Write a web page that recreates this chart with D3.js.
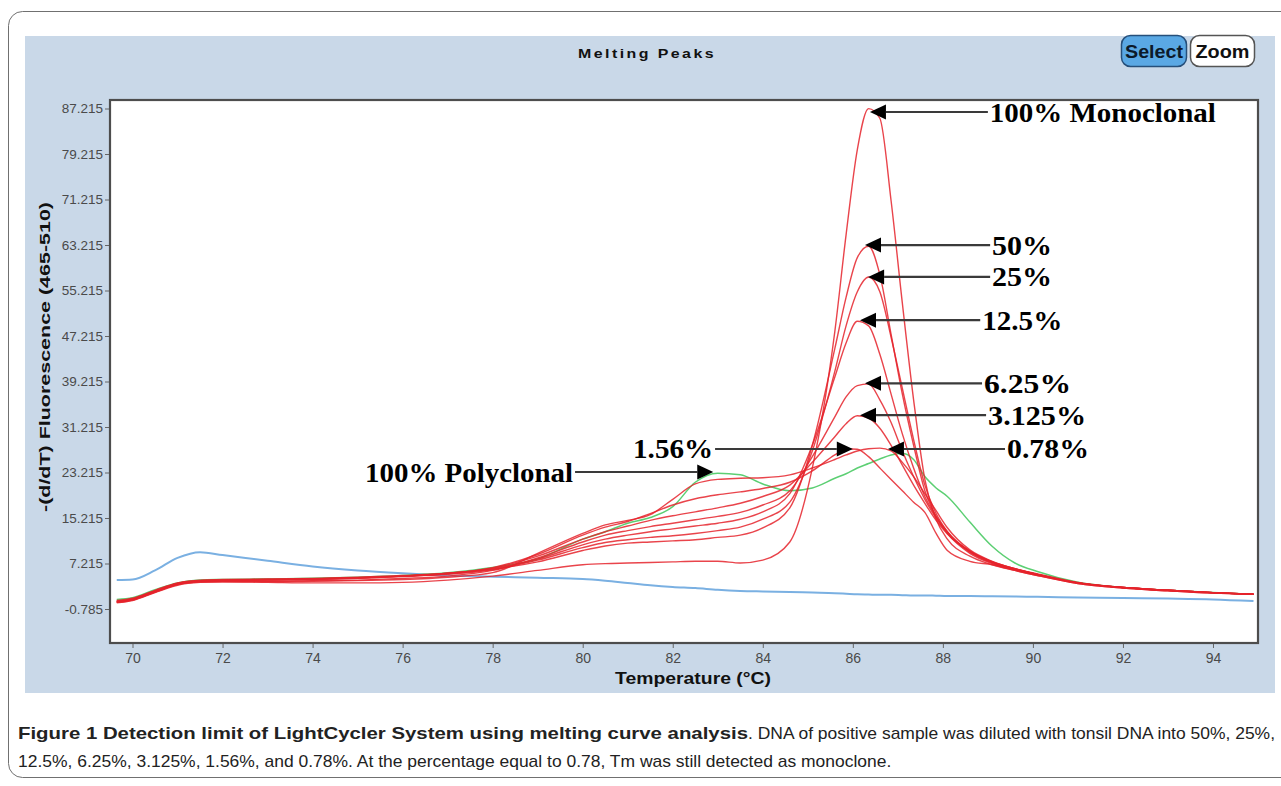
<!DOCTYPE html>
<html><head><meta charset="utf-8">
<script src="https://cdn.jsdelivr.net/npm/d3@7"></script>
<style>body{margin:0;background:#fff}svg{display:block}</style>
</head><body>
<svg id="chart" width="1281" height="786"></svg>
<script>
// ---------- data ----------
const temps = [69.65,70,70.5,71,71.5,72,73,74,75,76,77,78,
  79,80,80.5,81,81.5,82,82.5,83,83.5,84,
  84.6,85.1,85.6,85.85,86.1,86.35,86.6,86.85,87.1,87.35,87.6,87.85,88.1,
  88.6,89.1,89.6,90.1,91,92,93,94,94.9];

const blankControl = [4.3,4.4,6.0,8.2,9.2,8.7,7.7,6.7,6.0,5.5,5.1,4.9,
  4.7,4.5,4.2,3.8,3.4,3.1,2.9,2.6,2.4,2.3,
  2.2,2.1,2.0,1.9,1.8,1.75,1.7,1.7,1.65,1.6,1.6,1.55,1.5,
  1.5,1.45,1.4,1.35,1.25,1.15,1.05,0.9,0.6];

const polyclonal100 = [0.9,1.2,2.6,3.8,4.3,4.4,4.5,4.6,4.8,5.1,5.6,6.5,
  8.0,11.5,12.8,14.3,15.3,17.2,21.5,23.1,22.8,21.2,
  20.0,20.5,22.2,23.0,24.0,24.8,25.6,26.3,26.6,25.5,22.5,20.5,19.0,
  14.5,10.2,7.3,5.8,3.9,3.0,2.5,2.1,1.8];

const monoclonal100 = [0.4,0.8,2.2,3.5,4.0,4.0,3.9,3.8,3.8,3.9,4.3,5.0,
  6.0,7.0,7.2,7.3,7.4,7.5,7.6,7.6,7.3,7.8,
  11,24,48,65,80,87.2,85.5,71,53,36,22,15,11.5,
  8.5,7.0,6.0,5.1,3.7,2.9,2.4,2.0,1.8];

const dilution50 = [0.6,1.0,2.4,3.7,4.2,4.3,4.4,4.5,4.7,5.0,5.4,6.2,
  7.5,9.5,10.3,10.8,11.0,11.2,11.4,11.8,12.2,13.5,
  17,28,45,54,61,63,58,47.5,37,28,20,15.5,12.5,
  9.0,7.2,6.1,5.2,3.8,3.0,2.5,2.1,1.8];

const dilution25 = [0.5,0.9,2.3,3.6,4.1,4.2,4.3,4.4,4.6,4.9,5.3,6.1,
  7.8,10.0,10.9,11.4,11.8,12.1,12.5,13.0,13.6,15.0,
  18,27,41,49,55,57.6,55,47,38,29,21,16,12.8,
  9.2,7.3,6.2,5.3,3.8,3.0,2.5,2.1,1.8];

const dilution12_5 = [0.7,1.1,2.5,3.8,4.3,4.4,4.5,4.6,4.8,5.1,5.5,6.3,
  8.0,10.5,11.5,12.2,12.8,13.3,13.8,14.3,15.0,16.3,
  19.5,28,40,46,49.8,49,44,37,30,24,19,15.5,12.8,
  9.3,7.4,6.2,5.3,3.8,3.0,2.5,2.1,1.8];

const dilution6_25 = [0.4,0.8,2.2,3.5,4.0,4.1,4.1,4.2,4.3,4.6,5.0,6.0,
  8.2,11.0,12.2,13.0,13.7,14.3,14.9,15.5,16.2,17.5,
  20,26,33,36.5,38.5,38.8,36,32,27,22.5,18.5,15.2,12.6,
  9.4,7.5,6.3,5.3,3.8,3.0,2.5,2.1,1.8];

const dilution3_125 = [0.6,1.0,2.4,3.7,4.2,4.3,4.4,4.5,4.7,5.0,5.5,6.4,
  8.5,11.5,12.8,13.8,14.8,15.6,16.3,17.0,17.8,19.0,
  21,25,29.5,31.8,33.2,32.8,31,28,24.5,21,17.8,14.8,12.4,
  9.4,7.5,6.3,5.3,3.8,3.0,2.5,2.1,1.8];

const dilution1_56 = [0.5,0.9,2.3,3.6,4.1,4.2,4.3,4.4,4.6,5.0,5.5,6.5,
  8.8,12.2,13.6,14.6,16.0,17.5,18.6,19.3,19.8,20.4,
  21.5,23.5,26.3,27.4,27.3,26,24,22,20,18,16.2,12.5,9.5,
  7.6,7.0,6.0,5.1,3.7,2.9,2.4,2.0,1.8];

const dilution0_78 = [0.3,0.7,2.1,3.4,3.9,4.0,4.0,4.1,4.2,4.4,4.8,5.6,
  9.0,12.5,14.0,14.8,15.8,18.5,21.2,22.0,22.2,22.3,
  22.8,24,25.5,26.3,27,27.4,27.5,27,25,22.5,19.5,16.5,13.5,
  9.6,7.6,6.3,5.4,3.9,3.0,2.5,2.1,1.8];

const redSeries = [monoclonal100, dilution50, dilution25, dilution12_5, dilution6_25, dilution3_125, dilution1_56, dilution0_78];

const xTicks = [70,72,74,76,78,80,82,84,86,88,90,92,94];
const yTicks = [-0.785,7.215,15.215,23.215,31.215,39.215,47.215,55.215,63.215,71.215,79.215,87.215];
const yTickLabels = ["-0.785","7.215","15.215","23.215","31.215","39.215","47.215","55.215","63.215","71.215","79.215","87.215"];

const annotationLabels = ["100% Monoclonal","50%","25%","12.5%","6.25%","3.125%","0.78%","1.56%","100% Polyclonal"];
const annotationTipTemp = [86.38,86.27,86.34,86.16,86.27,86.16,86.78,86.0,82.9];
const annotationTipValue = [86.6,63.2,57.6,50.0,38.9,33.3,27.35,27.35,23.3];
const annotationTailTemp = [89.0,89.05,89.05,88.83,88.87,88.96,89.38,82.94,79.83];
const annotationPointsLeft = [true,true,true,true,true,true,true,false,false];

const titleText = "Melting Peaks";
const xTitle = "Temperature (°C)";
const yTitle = "-(d/dT) Fluorescence (465-510)";
const captionBold = "Figure 1 Detection limit of LightCycler System using melting curve analysis";
const captionRest1 = ". DNA of positive sample was diluted with tonsil DNA into 50%, 25%,";
const captionLine2 = "12.5%, 6.25%, 3.125%, 1.56%, and 0.78%. At the percentage equal to 0.78, Tm was still detected as monoclone.";

// ---------- layout ----------
const svg = d3.select("#chart");
const plot = {left:110, top:100, right:1258, bottom:643};
const labelWidths = [226,60,60,80,87,98,82,80,208];

// outer frame
svg.append("rect").attr("x",8.5).attr("y",11.5).attr("width",1320).attr("height",766)
  .attr("rx",14).attr("fill","none").attr("stroke","#707070").attr("stroke-width",1);

// panel
svg.append("rect").attr("x",25).attr("y",36).attr("width",1250).attr("height",657).attr("fill","#c9d8e8");

svg.append("text").attr("x",647).attr("y",58).attr("text-anchor","middle")
  .attr("font-family","Liberation Sans, Arial, sans-serif").attr("font-weight","bold")
  .attr("font-size",13).attr("letter-spacing",2).attr("fill","#111")
  .attr("textLength",138).attr("lengthAdjust","spacingAndGlyphs").text(titleText);

// buttons
const btn = svg.append("g");
btn.append("rect").attr("x",1121.5).attr("y",35.5).attr("width",65).attr("height",31).attr("rx",9)
  .attr("fill","#5aa8e4").attr("stroke","#264f7a").attr("stroke-width",1.5);
btn.append("text").attr("x",1154).attr("y",58).attr("text-anchor","middle")
  .attr("font-family","Liberation Sans Narrow, Arial Narrow, Liberation Sans, sans-serif").attr("font-weight","bold")
  .attr("font-size",19).attr("fill","#0c1a2a").attr("textLength",58).attr("lengthAdjust","spacingAndGlyphs").text("Select");
btn.append("rect").attr("x",1190.5).attr("y",35.5).attr("width",64).attr("height",31).attr("rx",9)
  .attr("fill","#ffffff").attr("stroke","#555").attr("stroke-width",1.5);
btn.append("text").attr("x",1222.5).attr("y",58).attr("text-anchor","middle")
  .attr("font-family","Liberation Sans Narrow, Arial Narrow, Liberation Sans, sans-serif").attr("font-weight","bold")
  .attr("font-size",19).attr("fill","#111").attr("textLength",54).attr("lengthAdjust","spacingAndGlyphs").text("Zoom");

// plot background
svg.append("rect").attr("x",plot.left).attr("y",plot.top)
  .attr("width",plot.right-plot.left).attr("height",plot.bottom-plot.top).attr("fill","#fff");

// scales
const x = d3.scaleLinear().domain([69.5,95.0]).range([plot.left,plot.right]);
const y = d3.scaleLinear().domain([-6.763,88.71]).range([plot.bottom,plot.top]);

// axes
const xAxis = svg.append("g").attr("transform",`translate(0,${plot.bottom})`)
  .call(d3.axisBottom(x).tickValues(xTicks).tickSize(5).tickPadding(5).tickFormat(d3.format("d")));
const yAxis = svg.append("g").attr("transform",`translate(${plot.left},0)`)
  .call(d3.axisLeft(y).tickValues(yTicks).tickSize(5).tickPadding(2).tickFormat((d,i)=>yTickLabels[i]));
[xAxis,yAxis].forEach(a=>{
  a.select(".domain").remove();
  a.selectAll(".tick line").attr("stroke","#666");
  a.selectAll(".tick text").attr("font-family","Liberation Sans, Arial, sans-serif")
    .attr("font-size",13.5).attr("fill","#4a4a4a");
});
xAxis.selectAll(".tick text").attr("font-size",14);

svg.append("text").attr("x",693).attr("y",684).attr("text-anchor","middle")
  .attr("font-family","Liberation Sans, Arial, sans-serif").attr("font-weight","bold")
  .attr("font-size",16).attr("fill","#111").attr("textLength",156).attr("lengthAdjust","spacingAndGlyphs").text(xTitle);
svg.append("text").attr("transform","translate(50,357) rotate(-90)").attr("text-anchor","middle")
  .attr("font-family","Liberation Sans, Arial, sans-serif").attr("font-weight","bold")
  .attr("font-size",15).attr("fill","#111").attr("textLength",310).attr("lengthAdjust","spacingAndGlyphs")
  .text(yTitle);

// curves
const clipId = "plotclip";
svg.append("clipPath").attr("id",clipId).append("rect")
  .attr("x",plot.left).attr("y",plot.top).attr("width",plot.right-plot.left).attr("height",plot.bottom-plot.top);
const line = d3.line().x((d,i)=>x(temps[i])).y(d=>y(d)).curve(d3.curveMonotoneX);
const curves = svg.append("g").attr("clip-path",`url(#${clipId})`).attr("fill","none");
curves.append("path").attr("d",line(blankControl)).attr("stroke","#7ab0e2").attr("stroke-width",2);
curves.append("path").attr("d",line(polyclonal100)).attr("stroke","#5ccf73").attr("stroke-width",1.5);
redSeries.forEach(s=>{
  curves.append("path").attr("d",line(s)).attr("stroke","#e5232b").attr("stroke-width",1.4).attr("stroke-opacity",0.85);
});

// plot frame
svg.append("rect").attr("x",plot.left).attr("y",plot.top)
  .attr("width",plot.right-plot.left).attr("height",plot.bottom-plot.top)
  .attr("fill","none").attr("stroke","#4d4d4d").attr("stroke-width",2.2);

// annotations
const ann = svg.append("g");
annotationLabels.forEach((lab,i)=>{
  const tx = x(annotationTipTemp[i]), ty = y(annotationTipValue[i]);
  const tail = x(annotationTailTemp[i]);
  const left = annotationPointsLeft[i];
  const hl = 16, hw = 7.5;
  const base = left ? tx + hl : tx - hl;
  ann.append("line").attr("x1",tail).attr("x2",base).attr("y1",ty).attr("y2",ty)
    .attr("stroke","#3a3a3a").attr("stroke-width",2.2);
  ann.append("path").attr("d",`M${tx},${ty}L${base},${ty-hw}L${base},${ty+hw}Z`).attr("fill","#000");
  ann.append("text").attr("x", left ? tail+2 : tail-2).attr("y",ty+9.5)
    .attr("text-anchor", left ? "start" : "end")
    .attr("font-family","Liberation Serif, Times New Roman, serif").attr("font-weight","bold")
    .attr("font-size",28).attr("fill","#000")
    .attr("textLength",labelWidths[i]).attr("lengthAdjust","spacingAndGlyphs").text(lab);
});

// caption
const capFont = "Liberation Sans Narrow, Arial Narrow, Liberation Sans, sans-serif";
const capB = svg.append("text").attr("x",18).attr("y",739).attr("font-family",capFont)
  .attr("font-size",17).attr("font-weight","bold").attr("fill","#222").text(captionBold);
const capR = svg.append("text").attr("x",748).attr("y",739).attr("font-family",capFont)
  .attr("font-size",17).attr("fill","#222").text(captionRest1);
const cap2 = svg.append("text").attr("x",18).attr("y",767).attr("font-family",capFont)
  .attr("font-size",17).attr("fill","#222").text(captionLine2);
const LR = capR.node().getComputedTextLength();
const L2 = cap2.node().getComputedTextLength();
const ratio = (1275 - 748) / LR;
capB.attr("textLength",730).attr("lengthAdjust","spacingAndGlyphs");
capR.attr("textLength",1275 - 748).attr("lengthAdjust","spacingAndGlyphs");
cap2.attr("textLength",L2*ratio).attr("lengthAdjust","spacingAndGlyphs");
</script>
</body></html>
